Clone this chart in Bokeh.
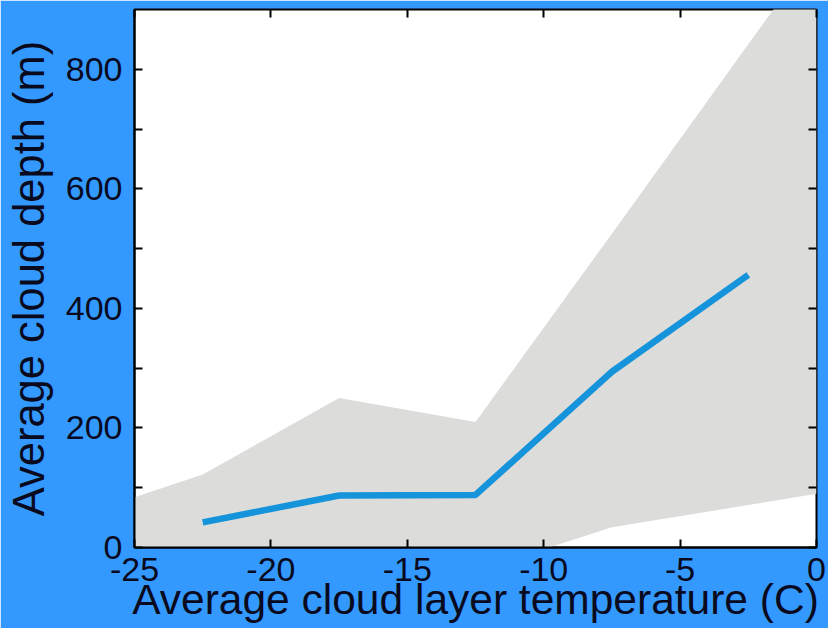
from bokeh.plotting import figure
from bokeh.models import FixedTicker, LinearAxis, Range1d
from bokeh.embed import file_html
from bokeh.resources import INLINE

# Data
temp_centers = [-22.5, -17.5, -12.5, -7.5, -2.5]
mean_depth = [42, 87, 88, 294, 456]

band_temp = [-25, -22.5, -17.5, -12.5, -7.5, -2.5, 0]
band_upper = [84, 122, 250, 210, 525, 842, 1000]
band_lower = [-60, -40, -75, -40, 34, 71, 90]

x_ticks = [-25, -20, -15, -10, -5, 0]
x_tick_labels = ["-25", "-20", "-15", "-10", "-5", "0"]
y_ticks = [0, 200, 400, 600, 800]
y_minor_ticks = [100, 300, 500, 700]

BG = "#3399FF"
FONT = "Liberation Sans"
TXT = "#0a0a1e"

p = figure(width=828, height=628, output_backend="svg", toolbar_location=None,
           x_range=Range1d(-25, 0), y_range=Range1d(0, 900),
           background_fill_color="white", border_fill_color=BG,
           min_border_left=134, min_border_right=12, min_border_top=9, min_border_bottom=81)

p.varea(x=band_temp, y1=band_lower, y2=band_upper, fill_color="#DCDCDA")
p.line(x=temp_centers, y=mean_depth, line_color="#1593DB", line_width=6.5)

p.grid.visible = False
p.outline_line_color = "black"
p.outline_line_width = 2

for ax in (p.xaxis[0], p.yaxis[0]):
    ax.major_tick_in = 8
    ax.major_tick_out = 0
    ax.minor_tick_in = 8
    ax.minor_tick_out = 0
    ax.axis_line_color = "black"
    ax.axis_line_width = 2
    ax.major_tick_line_color = "black"
    ax.major_tick_line_width = 2
    ax.minor_tick_line_color = "black"
    ax.minor_tick_line_width = 2
    ax.major_label_text_font = FONT
    ax.major_label_text_font_size = "34px"
    ax.major_label_text_color = TXT
    ax.axis_label_text_font = FONT
    ax.axis_label_text_font_style = "normal"
    ax.axis_label_text_color = TXT

p.xaxis[0].ticker = FixedTicker(ticks=x_ticks)
p.xaxis[0].major_label_overrides = dict(zip(x_ticks, x_tick_labels))
p.yaxis[0].ticker = FixedTicker(ticks=y_ticks, minor_ticks=y_minor_ticks)
p.xaxis[0].axis_label = "Average cloud layer temperature (C)"
p.yaxis[0].axis_label = "Average cloud depth (m)"
p.xaxis[0].axis_label_text_font_size = "42.5px"
p.yaxis[0].axis_label_text_font_size = "43.5px"
p.xaxis[0].major_label_standoff = 10
p.xaxis[0].axis_label_standoff = -8
p.yaxis[0].major_label_standoff = 12
p.yaxis[0].axis_label_standoff = 10

# mirrored ticks on top and right (labels not painted)
top = LinearAxis(ticker=FixedTicker(ticks=x_ticks), major_label_text_font_size="0px",
                 major_label_text_color=None,
                 major_tick_in=8, major_tick_out=0, minor_tick_in=0, minor_tick_out=0,
                 major_tick_line_width=2, axis_line_color=None, major_label_standoff=0)
right = LinearAxis(ticker=FixedTicker(ticks=y_ticks, minor_ticks=y_minor_ticks),
                   major_label_text_font_size="0px", major_label_text_color=None,
                   major_tick_in=8, major_tick_out=0, minor_tick_in=8, minor_tick_out=0,
                   major_tick_line_width=2, minor_tick_line_width=2,
                   axis_line_color=None, major_label_standoff=0)
p.add_layout(top, "above")
p.add_layout(right, "right")

open("out.html", "w").write(file_html(p, INLINE))
